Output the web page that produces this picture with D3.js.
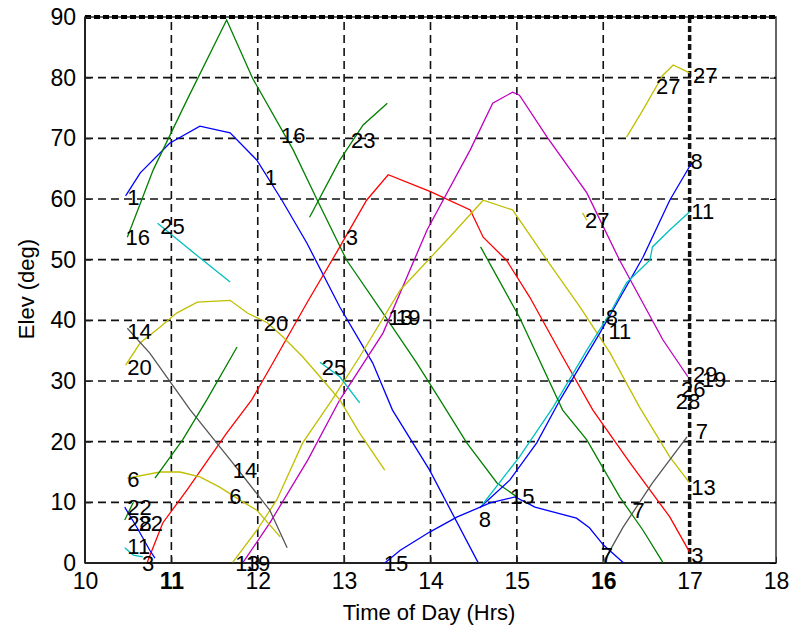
<!DOCTYPE html>
<html>
<head>
<meta charset="utf-8">
<script src="https://cdn.jsdelivr.net/npm/d3@7"></script>
<style>
body { margin: 0; background: #fff; }
text { font-family: "Liberation Sans", Arial, sans-serif; fill: #000; }
</style>
</head>
<body>
<svg id="main_svg" width="789" height="627"></svg>
<script>
// satellite passes, [hour, elevation]
var prn1  = [[10.47,60.5],[10.64,64.3],[10.98,69.2],[11.33,72.0],[11.68,70.9],[11.99,66.4],[12.28,59.8],[12.57,52.7],[12.95,42.2],[13.33,33.0],[13.56,25.2],[13.99,15.3],[14.55,0.1]];
var prn16 = [[10.49,53.7],[10.79,64.8],[11.18,76.3],[11.64,89.5],[11.94,79.9],[12.41,68.1],[12.69,59.8],[13.03,49.9],[13.45,41.2],[13.84,33.0],[14.11,26.9],[14.42,19.8],[14.77,13.2],[15.0,10.9]];
var prn3  = [[10.72,0.1],[10.90,6.6],[11.18,12.0],[11.64,21.4],[11.93,26.9],[12.14,32.1],[12.57,42.9],[12.95,52.1],[13.26,59.8],[13.51,64.0],[14.0,61.2],[14.46,58.2],[14.61,53.7],[14.88,49.9],[15.15,43.8],[15.53,34.0],[15.88,25.2],[16.31,16.5],[16.77,7.6],[17.0,1.8]];
var prn19 = [[11.83,0.1],[12.14,6.6],[12.58,17.0],[12.95,26.9],[13.45,37.9],[13.96,54.9],[14.46,68.1],[14.72,75.8],[14.95,77.6],[15.03,77.1],[15.35,70.2],[15.81,61.0],[16.19,49.9],[16.69,36.8],[16.98,30.7]];
var prn13 = [[11.71,0.1],[11.99,5.4],[12.22,10.4],[12.52,19.8],[12.86,26.9],[13.18,34.0],[13.65,45.0],[14.22,53.7],[14.61,59.8],[14.95,58.2],[15.35,49.9],[15.73,42.2],[16.08,34.6],[16.42,25.7],[16.77,17.5],[17.0,13.2]];
var prn20 = [[10.47,32.6],[10.64,36.3],[10.87,38.9],[11.06,41.2],[11.30,43.0],[11.68,43.3],[11.88,41.2],[12.11,39.6],[12.29,37.3],[12.52,34.0],[12.75,30.2],[12.95,26.9],[13.18,21.4],[13.47,15.3]];
var prn14 = [[10.49,38.7],[10.75,34.6],[11.22,25.2],[11.71,16.5],[12.14,8.7],[12.34,2.5]];
var prn6  = [[10.49,14.0],[10.87,15.0],[11.10,15.0],[11.33,14.2],[11.56,12.5],[11.79,10.4],[11.99,8.7],[12.26,4.3]];
var prn15 = [[13.47,0.0],[13.65,2.1],[13.99,5.1],[14.31,7.6],[14.69,9.9],[14.98,10.9],[15.21,9.2],[15.69,7.4],[15.84,5.8],[16.0,3.0],[16.23,0.1]];
var prn8  = [[14.57,9.1],[14.92,13.7],[15.23,19.8],[15.50,26.9],[15.96,37.9],[16.46,50.4],[16.77,59.8],[17.03,66.1]];
var prn11 = [[14.60,9.6],[15.03,17.5],[15.42,25.7],[15.81,35.1],[16.08,41.2],[16.27,46.2],[16.54,49.9],[16.57,52.1],[16.77,54.9],[17.0,57.9]];
var prn2  = [[14.58,52.1],[15.03,40.5],[15.53,25.2],[15.81,20.3],[16.19,10.9],[16.46,5.4],[16.69,0.1]];
var prn23 = [[12.60,57.0],[12.95,66.4],[13.22,72.2],[13.50,75.8]];
var prn12 = [[10.81,14.0],[11.13,20.3],[11.41,26.9],[11.76,35.6]];
var prn25a = [[10.84,56.0],[11.33,50.3],[11.68,46.3]];
var prn25b = [[12.72,33.1],[12.95,30.7],[13.18,26.4]];
var prn27 = [[16.27,70.2],[16.46,74.7],[16.69,80.4],[16.81,82.1],[17.0,80.8]];
var prn27b = [[15.76,57.7],[15.81,56.5]];
var prn7  = [[16.0,0.1],[16.23,5.9],[16.57,13.2],[16.97,20.8]];
var prn22 = [[10.46,7.1],[10.56,10.0]];
var prn28 = [[10.46,9.2],[10.60,5.9],[10.75,2.1],[10.81,0.8]];
var prn11b = [[10.46,2.5],[10.56,1.3],[10.67,1.0]];

var passes = [prn1, prn16, prn3, prn19, prn13, prn20, prn14, prn6, prn15, prn8, prn11, prn2, prn23, prn12, prn25a, prn25b, prn27, prn27b, prn7, prn22, prn28, prn11b];

// satellite number labels [text, hour, elevation]
var labels = [
  ['1',10.49,60.3],['16',10.47,53.6],['25',10.87,55.4],['14',10.49,38.2],['20',10.49,32.3],
  ['6',10.49,13.8],['22',10.49,9.1],['28',10.49,6.5],['22',10.62,6.5],['11',10.49,2.8],['3',10.66,0],
  ['13',11.74,0],['19',11.86,0],['16',12.27,70.5],['1',12.08,63.6],['20',12.07,39.4],
  ['6',11.67,10.9],['14',11.71,15.3],['23',13.08,69.7],['3',13.02,53.7],['25',12.74,32.3],
  ['13',13.51,40.4],['19',13.6,40.4],['15',13.46,0],['8',14.56,7.1],['15',14.92,10.9],
  ['27',15.79,56.5],['8',16.03,40.4],['11',16.06,38.1],['27',16.61,78.5],['27',17.04,80.3],
  ['8',17.01,66.1],['11',17.02,57.9],['29',17.04,31.1],['19',17.14,30.2],['26',16.9,28.6],
  ['28',16.84,26.6],['13',17.02,12.5],['7',17.07,21.6],['7',16.34,8.7],['7',15.97,1.3],['3',17.02,1.3]
];

var xTicks = [10,11,12,13,14,15,16,17,18];
var yTicks = [0,10,20,30,40,50,60,70,80,90];

var passColors = ['#0000ff','#008000','#ff0000','#bf00bf','#bfbf00','#bfbf00','#555555','#bfbf00','#0000ff','#0000ff','#00bfbf','#008000','#008000','#008000','#00bfbf','#00bfbf','#bfbf00','#bfbf00','#555555','#008000','#0000ff','#00bfbf'];

var svg = d3.select('#main_svg');
var x = d3.scaleLinear().domain([10,18]).range([85,776]);
var y = d3.scaleLinear().domain([0,90]).range([563,17]);

// grid
svg.append('g').selectAll('line')
  .data(xTicks.slice(1, -1))
  .enter().append('line')
  .attr('x1', function(d) { return x(d); }).attr('x2', function(d) { return x(d); })
  .attr('y1', y(0)).attr('y2', y(90))
  .style('stroke', '#111')
  .style('stroke-width', function(d) { return d == 17 ? 3.5 : 1.6; })
  .style('stroke-dasharray', function(d) { return d == 17 ? '6,3' : '8,5'; });

svg.append('g').selectAll('line')
  .data(yTicks.slice(1, -1))
  .enter().append('line')
  .attr('x1', x(10)).attr('x2', x(18))
  .attr('y1', function(d) { return y(d); }).attr('y2', function(d) { return y(d); })
  .style('stroke', '#111').style('stroke-width', 1.6).style('stroke-dasharray', '8,5');

// box
svg.append('rect')
  .attr('x', x(10)).attr('y', y(90))
  .attr('width', x(18) - x(10)).attr('height', y(0) - y(90))
  .style('fill', 'none').style('stroke', '#333').style('stroke-width', 1.5);
svg.append('line')
  .attr('x1', x(10)).attr('x2', x(18)).attr('y1', y(90)).attr('y2', y(90))
  .style('stroke', '#000').style('stroke-width', 4).style('stroke-dasharray', '6,3');
svg.append('line')
  .attr('x1', x(10)).attr('x2', x(10)).attr('y1', y(90)).attr('y2', y(0))
  .style('stroke', '#222').style('stroke-width', 2);
svg.append('line')
  .attr('x1', x(10)).attr('x2', x(18)).attr('y1', y(0)).attr('y2', y(0))
  .style('stroke', '#222').style('stroke-width', 2);

// axes
var yAxis = svg.append('g').attr('transform', 'translate(' + x(10) + ',0)')
  .call(d3.axisLeft(y).tickValues(yTicks).tickSizeInner(-6).tickSizeOuter(0).tickPadding(9));
var xAxis = svg.append('g').attr('transform', 'translate(0,' + y(0) + ')')
  .call(d3.axisBottom(x).tickValues(xTicks).tickSizeInner(-6).tickSizeOuter(0).tickPadding(10));
svg.append('g').attr('transform', 'translate(' + x(18) + ',0)')
  .call(d3.axisRight(y).tickValues(yTicks).tickSizeInner(-6).tickSizeOuter(0).tickFormat(''));
[yAxis, xAxis].forEach(function(a) {
  a.select('.domain').remove();
  a.selectAll('line').style('stroke', '#222');
  a.selectAll('text').style('font-size', '23px').style('fill', '#000');
});
svg.selectAll('.domain').remove();
xAxis.selectAll('text').style('font-weight', function(d) { return (d == 11 || d == 16) ? 'bold' : 'normal'; });

// passes
var line = d3.line().x(function(d) { return x(d[0]); }).y(function(d) { return y(d[1]); });
svg.append('g').selectAll('path')
  .data(passes)
  .enter().append('path')
  .attr('d', line)
  .style('fill', 'none')
  .style('stroke', function(d, i) { return passColors[i]; })
  .style('stroke-width', 1.3);

// prn labels
svg.append('g').selectAll('text')
  .data(labels)
  .enter().append('text')
  .attr('x', function(d) { return x(d[1]); })
  .attr('y', function(d) { return y(d[2]); })
  .attr('dominant-baseline', 'central')
  .style('font-size', '22px')
  .text(function(d) { return d[0]; });

// axis titles
svg.append('text')
  .attr('x', 429).attr('y', 612)
  .attr('text-anchor', 'middle').attr('dominant-baseline', 'central')
  .style('font-size', '22px')
  .text('Time of Day (Hrs)');
svg.append('text')
  .attr('transform', 'translate(26,289) rotate(-90)')
  .attr('text-anchor', 'middle').attr('dominant-baseline', 'central')
  .style('font-size', '22px')
  .text('Elev (deg)');
</script>
</body>
</html>
